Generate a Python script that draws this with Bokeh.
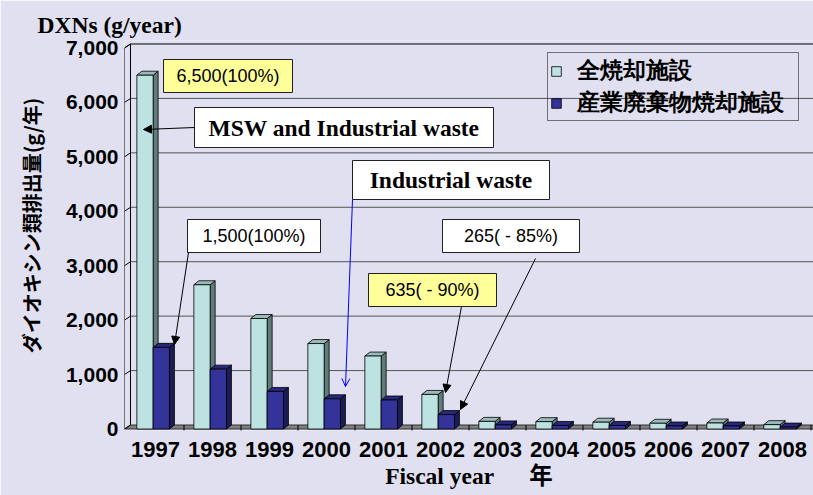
from bokeh.plotting import figure
from bokeh.models import (Range1d, FixedTicker, NumeralTickFormatter, Legend, LegendItem,
                          BoxAnnotation, Label, Arrow, NormalHead, OpenHead)
from bokeh.embed import file_html
from bokeh.resources import INLINE

# ---------------- data ----------------
years = ["1997", "1998", "1999", "2000", "2001", "2002",
         "2003", "2004", "2005", "2006", "2007", "2008"]
all_incin = [6500, 2650, 2030, 1570, 1340, 635, 140, 135, 125, 105, 110, 80]
industrial = [1500, 1100, 690, 555, 533, 265, 75, 65, 65, 55, 55, 35]
y_ticks = [0, 1000, 2000, 3000, 4000, 5000, 6000, 7000]
series_names = ["全焼却施設", "産業廃棄物焼却施設"]
callout_texts = ["6,500(100%)", "MSW and Industrial waste", "Industrial waste",
                 "1,500(100%)", "265( - 85%)", "635( - 90%)"]
title_text = "DXNs (g/year)"
y_label = "\u3000ダイオキシン類排出量(g/年)"
x_label = "Fiscal year" + "\u00a0" * 6 + "年"

# ---------------- layout (screen px) ----------------
OFF = 0
W, H = 813, 495
FL, FR, FT, FB = 124, OFF + W, 40, 430
Y0 = 428.5          # screen y of value 0 (front)
PXY = 0.05443       # px per unit in y
CX0 = 155           # screen x of first category
PXX = 57.0          # px per category

def X(sx):
    return (sx - CX0) / PXX

def Y(sy):
    return (Y0 - sy) / PXY

def dxu(px):
    return px / PXX

def dyu(px):
    return px / PXY

BG = "#e0e0f1"

p = figure(width=W, height=H, x_range=Range1d(X(FL), X(FR)), y_range=Range1d(Y(FB), Y(FT)),
           output_backend="svg", toolbar_location=None,
           min_border_left=FL - OFF, min_border_right=OFF + W - FR,
           min_border_top=FT - OFF, min_border_bottom=OFF + H - FB,
           background_fill_color=BG, border_fill_color=BG, outline_line_color=None)
p.grid.visible = False

# title
p.title.text = title_text
p.title.align = "left"
p.title.offset = 37 - FL
p.title.standoff = 5
p.title.text_font = "Liberation Serif"
p.title.text_font_style = "bold"
p.title.text_font_size = "23.5px"
p.title.text_color = "black"

# y axis
p.yaxis.ticker = FixedTicker(ticks=y_ticks)
p.yaxis.formatter = NumeralTickFormatter(format="0,0")
p.yaxis.major_label_text_font = "Liberation Sans"
p.yaxis.major_label_text_font_style = "bold"
p.yaxis.major_label_text_font_size = "21px"
p.yaxis.major_label_text_color = "black"
p.yaxis.major_label_standoff = 6
p.yaxis.major_tick_in = 0
p.yaxis.major_tick_out = 0
p.yaxis.minor_tick_in = 0
p.yaxis.minor_tick_out = 0
p.yaxis.axis_line_color = None
p.yaxis.axis_label = y_label
p.yaxis.axis_label_text_font = "Noto Sans CJK JP"
p.yaxis.axis_label_text_font_style = "bold"
p.yaxis.axis_label_text_font_size = "20px"
p.yaxis.axis_label_text_color = "black"
p.yaxis.axis_label_standoff = 17

# x axis
p.xaxis.ticker = FixedTicker(ticks=list(range(len(years))))
p.xaxis.major_label_overrides = {i: y for i, y in enumerate(years)}
p.xaxis.major_label_text_font = "Liberation Sans"
p.xaxis.major_label_text_font_style = "bold"
p.xaxis.major_label_text_font_size = "22px"
p.xaxis.major_label_text_color = "black"
p.xaxis.major_label_standoff = 11
p.xaxis.major_tick_in = 0
p.xaxis.major_tick_out = 0
p.xaxis.minor_tick_in = 0
p.xaxis.minor_tick_out = 0
p.xaxis.axis_line_color = None
p.xaxis.axis_label = x_label
p.xaxis.axis_label_text_font = "Liberation Serif, Noto Sans CJK JP"
p.xaxis.axis_label_text_font_style = "bold"
p.xaxis.axis_label_text_font_size = "23.5px"
p.xaxis.axis_label_text_color = "black"
p.xaxis.axis_label_standoff = 3

# ---------------- 3D walls ----------------
xL = X(FL)
xLb = X(FL + 6)
xR = X(FR)
WDY = dyu(4)
ytop = y_ticks[-1]

# floor
p.patch([xL, xLb, xR + 1, xR], [0, WDY, WDY, 0], fill_color="#808080",
        line_color="#303030", line_width=1)
# category boundary ticks
bnds = [i - 0.5 for i in range(1, len(years) + 1)]
p.segment(x0=bnds, y0=[Y(433)] * len(bnds), x1=bnds, y1=[WDY] * len(bnds),
          line_color="black", line_width=1)
# left wall
p.patch([xL, xLb, xLb, xL], [0, WDY, ytop + WDY, ytop], fill_alpha=0,
        line_color="black", line_width=1)
# back-wall gridlines
gt = y_ticks[1:]
p.segment(x0=[xLb] * len(gt), y0=[t + WDY for t in gt], x1=[xR] * len(gt),
          y1=[t + WDY for t in gt],
          line_color=["#555555"] * (len(gt) - 1) + ["black"], line_width=1)
# slanted ticks on left wall
p.segment(x0=[xL] * len(gt), y0=gt, x1=[xLb] * len(gt), y1=[t + WDY for t in gt],
          line_color="black", line_width=1)

# ---------------- 3D bars ----------------
BW = dxu(16.3)
BDX = dxu(5)
BDY = dyu(4)

def bars(vals, off, front, side, top):
    xc = [i + off for i in range(len(vals))]
    sx, sy, tx, ty = [], [], [], []
    for c, v in zip(xc, vals):
        xr = c + BW / 2
        xl = c - BW / 2
        sx.append([xr, xr + BDX, xr + BDX, xr])
        sy.append([0, BDY, v + BDY, v])
        tx.append([xl, xl + BDX, xr + BDX, xr])
        ty.append([v, v + BDY, v + BDY, v])
    p.patches(sx, sy, fill_color=side, line_color="black", line_width=0.8)
    p.patches(tx, ty, fill_color=top, line_color="black", line_width=0.8)
    return p.vbar(x=xc, width=BW, top=vals, bottom=0, fill_color=front,
                  line_color="black", line_width=0.8)

r1 = bars(all_incin, dxu(-10.5), "#bde2e2", "#5f7b7b", "#9ab9b9")
r2 = bars(industrial, dxu(5.8), "#333399", "#1c1c55", "#28287a")

legend = Legend(items=[LegendItem(label=series_names[0], renderers=[r1]),
                       LegendItem(label=series_names[1], renderers=[r2])],
                location=(547 - FL, FB - 121), orientation="vertical",
                padding=2, spacing=1, margin=0, glyph_width=12, glyph_height=12,
                label_standoff=15, label_width=219,
                label_text_font="Liberation Sans", label_text_font_style="bold",
                label_text_font_size="23px", label_text_color="black",
                border_line_color="black", border_line_width=1,
                background_fill_alpha=0)
p.add_layout(legend)

# ---------------- callouts ----------------
YEL = "#ffff99"
boxes = [  # left, right, top, bottom (screen), fill, font, size, style
    (163, 292, 59, 92, YEL, "Liberation Sans", "18px", "normal"),
    (194, 493, 107, 147, "white", "Liberation Serif", "23.5px", "bold"),
    (352, 549, 160, 199, "white", "Liberation Serif", "23.5px", "bold"),
    (187, 320, 219, 252, "white", "Liberation Sans", "18px", "normal"),
    (442, 579, 219, 252, "white", "Liberation Sans", "18px", "normal"),
    (368, 496, 273, 306, YEL, "Liberation Sans", "18px", "normal"),
]
for txt, (l, r, t, b, fc, fnt, fs, st) in zip(callout_texts, boxes):
    p.add_layout(BoxAnnotation(left=X(l), right=X(r), top=Y(t), bottom=Y(b),
                               fill_color=fc, fill_alpha=1, line_color="#202020",
                               line_width=1, line_alpha=1))
    p.add_layout(Label(x=X((l + r) / 2), y=Y((t + b) / 2), text=txt,
                       text_align="center", text_baseline="middle",
                       text_font=fnt, text_font_size=fs, text_font_style=st,
                       text_color="black"))

arrows = [  # x0, y0, x1, y1 (screen), color
    (194, 127, 143, 129, "black"),
    (188, 252, 174, 344, "black"),
    (461, 306, 445, 392, "black"),
    (535, 258, 460, 409, "black"),
]
for x0, y0, x1, y1, c in arrows:
    p.add_layout(Arrow(x_start=X(x0), y_start=Y(y0), x_end=X(x1), y_end=Y(y1),
                       line_color=c, line_width=1,
                       end=NormalHead(size=8, fill_color=c, line_color=c, line_width=1)))
p.add_layout(Arrow(x_start=X(352), y_start=Y(199), x_end=X(345), y_end=Y(386),
                   line_color="blue", line_width=1,
                   end=OpenHead(size=8, line_color="blue", line_width=1)))

open("out.html", "w").write(file_html(p, INLINE))
